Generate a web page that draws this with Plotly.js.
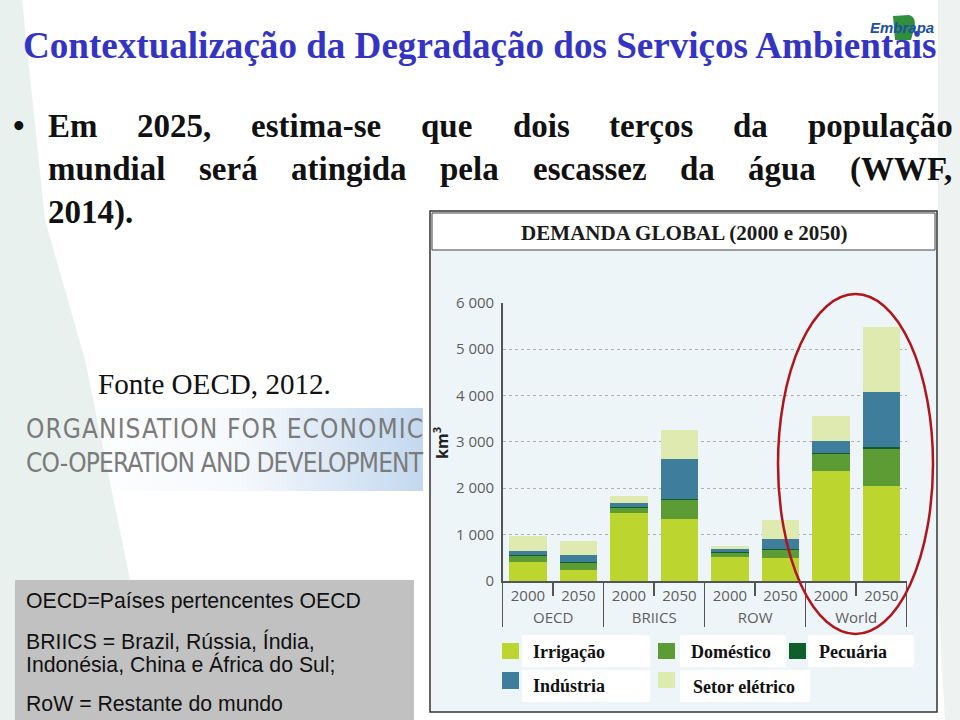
<!DOCTYPE html>
<html><head><meta charset="utf-8">
<script src="https://cdn.plot.ly/plotly-3.0.1.min.js"></script>
<style>html,body{margin:0;padding:0;background:#fff}#chart{width:960px;height:720px}</style>
</head><body><div id="chart"></div>
<script>
// ---- data ----
const regions = ["OECD","OECD","BRIICS","BRIICS","ROW","ROW","World","World"];
const years = ["2000","2050","2000","2050","2000","2050","2000","2050"];
const irrigacao = [402,237,1458,1329,528,503,2378,2055];
const domestico = [144,158,115,410,80,172,355,783];
const pecuaria = [15,12,15,35,10,20,25,60];
const industria = [93,146,100,862,62,200,250,1185];
const setorEletrico = [316,316,151,617,70,424,553,1401];
const seriesNames = ["Irrigação","Doméstico","Pecuária","Indústria","Setor elétrico"];
const yTicks = [0,1000,2000,3000,4000,5000,6000];

// ---- styles ----
const colors = ["#bcd52f","#5d9c35","#0f5f2c","#3f7d9d","#deeab0"];
const W = 960, H = 720;
const X = x => x / W, Y = y => 1 - y / H;
const SERIF = "'Liberation Serif','Times New Roman',serif";
const SANS = "'Liberation Sans',Arial,sans-serif";
const NARROW = "'Liberation Sans Narrow','DejaVu Sans Condensed','Liberation Sans',sans-serif";
const AXF = "'Open Sans','Noto Sans',sans-serif";

const ctx = document.createElement('canvas').getContext('2d');
function measure(text, weight, size, family){ ctx.font = weight + ' ' + size + 'px ' + family; return ctx.measureText(text).width; }
function fitSize(text, weight, family, width){ return 20 * width / measure(text, weight, 20, family); }

const allSeries = [irrigacao, domestico, pecuaria, industria, setorEletrico];
const traces = allSeries.map((vals, i) => ({
  type: 'bar', name: seriesNames[i], x: [regions, years], y: vals,
  marker: {color: colors[i], line: {width: 0}}, showlegend: false, hoverinfo: 'skip'
}));

const shapes = [];
const anns = [];
const rect = (x0,y0,x1,y1,fill,line,lw,layer) => shapes.push({type:'rect',xref:'paper',yref:'paper',x0:X(x0),x1:X(x1),y0:Y(y1),y1:Y(y0),fillcolor:fill,line:{color:line||'rgba(0,0,0,0)',width:lw||0},layer:layer||'below'});
const poly = (pts, fill) => shapes.push({type:'path',xref:'paper',yref:'paper',path:'M '+pts.map(p=>X(p[0]).toFixed(5)+' '+Y(p[1]).toFixed(5)).join(' L ')+' Z',fillcolor:fill,line:{width:0},layer:'below'});
const text = (t,x,y,o) => anns.push(Object.assign({text:t,x:X(x),y:Y(y),xref:'paper',yref:'paper',showarrow:false,xanchor:'left',yanchor:'middle',borderpad:0},o));

// slide background decoration
poly([[0,0],[22,0],[45,220],[85,360],[130,580],[150,720],[0,720]], '#e9f1ee');
poly([[938,0],[960,0],[960,720],[945,720],[938,600]], '#eef3f1');

// title
const titleTxt = "Contextualização da Degradação dos Serviços Ambientais";
const tSize = fitSize(titleTxt, 'bold', SERIF, 916);
text(titleTxt, 22, 45, {font:{family:SERIF,size:tSize,color:'#3434c4',weight:'bold'}});

// Embrapa logo
shapes.push({type:'path',xref:'paper',yref:'paper',path:'M '+X(893)+' '+Y(16)+' L '+X(909)+' '+Y(15)+' Q '+X(917)+' '+Y(17)+' '+X(914)+' '+Y(29)+' L '+X(911)+' '+Y(40)+' L '+X(895)+' '+Y(40)+' Z',fillcolor:'#2f8f3c',line:{width:0},layer:'below'});
text('<i>Embrapa</i>', 869, 28, {font:{family:SANS,size:15,color:'#1e4fa5',weight:'bold'}});

// bullet text (justified)
const bSize = 33;
function justify(words, x0, x1, y){
  const widths = words.map(w => measure(w,'bold',bSize,SERIF));
  const total = widths.reduce((a,b)=>a+b,0);
  const gap = (x1 - x0 - total) / (words.length - 1);
  let x = x0;
  words.forEach((w,i) => { text(w, x, y, {font:{family:SERIF,size:bSize,color:'#111',weight:'bold'}}); x += widths[i] + gap; });
}
text('•', 12, 126, {font:{family:SERIF,size:bSize,color:'#111',weight:'bold'}});
justify(["Em","2025,","estima-se","que","dois","terços","da","população"], 47, 952, 126);
justify(["mundial","será","atingida","pela","escassez","da","água","(WWF,"], 47, 951, 169);
text('2014).', 47, 212, {font:{family:SERIF,size:bSize,color:'#111',weight:'bold'}});

// Fonte
const fonteTxt = "Fonte OECD, 2012.";
text(fonteTxt, 97, 384, {font:{family:SERIF,size:fitSize(fonteTxt,'normal',SERIF,233),color:'#111'}});

// OECD logo (gradient background)
const gc = document.createElement('canvas'); gc.width = 408; gc.height = 83;
const g2 = gc.getContext('2d'); const grad = g2.createLinearGradient(0,0,408,0);
grad.addColorStop(0,'#ffffff'); grad.addColorStop(0.55,'#f6f9fc'); grad.addColorStop(1,'#c3d8ef');
g2.fillStyle = grad; g2.fillRect(0,0,408,83);
const logoImg = gc.toDataURL();
function spaced(t, x0, x1, y, size){
  const w = measure(t,'normal',size,NARROW);
  const ls = (x1 - x0 - w) / (t.length - 1);
  text('<span style="letter-spacing:'+ls.toFixed(2)+'px">'+t+'</span>', x0, y, {font:{family:NARROW,size:size,color:'#7b7b7b'}});
}
spaced("ORGANISATION FOR ECONOMIC", 25, 422, 429, 26);
spaced("CO-OPERATION AND DEVELOPMENT", 25, 422, 463, 26);

// grey info box
rect(15,580,414,720,'#c1c1c1');
const gSize = fitSize("OECD=Países pertencentes OECD",'normal',SANS,335);
text("OECD=Países pertencentes OECD", 25, 601, {font:{family:SANS,size:gSize,color:'#111'}});
text("BRIICS = Brazil, Rússia, Índia,", 25, 641, {font:{family:SANS,size:gSize,color:'#111'}});
text("Indonésia, China e África do Sul;", 25, 664, {font:{family:SANS,size:gSize,color:'#111'}});
text("RoW = Restante do mundo", 25, 704, {font:{family:SANS,size:gSize,color:'#111'}});

// chart frame
rect(430,211,937,712,'#eef5f8','#333',1.5);
rect(432,213,935,250,'#ffffff','#444',1);
const ctTxt = "DEMANDA GLOBAL (2000 e 2050)";
anns.push({text:ctTxt,x:X(683.5),y:Y(233),xref:'paper',yref:'paper',showarrow:false,xanchor:'center',yanchor:'middle',
  font:{family:SERIF,size:fitSize(ctTxt,'bold',SERIF,329),color:'#1a1a1a',weight:'bold'}});

// y axis title
anns.push({text:'km<sup>3</sup>',x:X(441),y:Y(443),xref:'paper',yref:'paper',showarrow:false,textangle:-90,xanchor:'center',yanchor:'middle',
  font:{family:AXF,size:16,color:'#222',weight:'bold'}});

// legend (custom)
const lg = [
  {sq:[502,643,519,659], bg:[522,635,650,667], tx:[532,652]},
  {sq:[658,643,675,659], bg:[680,635,786,667], tx:[690,652]},
  {sq:[789,643,806,659], bg:[808,635,914,667], tx:[818,652]},
  {sq:[502,672,519,689], bg:[522,670,650,702], tx:[532,686]},
  {sq:[658,672,675,688], bg:[680,670,810,702], tx:[692,687]}
];
lg.forEach((l,i) => {
  rect(l.bg[0],l.bg[1],l.bg[2],l.bg[3],'#ffffff');
  rect(l.sq[0],l.sq[1],l.sq[2],l.sq[3],colors[i]);
  text(seriesNames[i], l.tx[0], l.tx[1], {font:{family:SERIF,size:18,color:'#111',weight:'bold'}});
});

// red ellipse
shapes.push({type:'circle',xref:'paper',yref:'paper',x0:X(778),x1:X(933),y0:Y(634),y1:Y(294),line:{color:'#b3141c',width:2.5},fillcolor:'rgba(0,0,0,0)',layer:'above'});

const layout = {
  width: W, height: H, margin: {l:0,r:0,t:0,b:0},
  paper_bgcolor: '#ffffff', plot_bgcolor: 'rgba(0,0,0,0)',
  barmode: 'stack', bargap: 0.26, separators: '. ',
  showlegend: false,
  xaxis: {type:'multicategory', domain:[X(502.7),X(906.7)], showline:true, linecolor:'#555', linewidth:1.5,
    ticks:'outside', tickson:'boundaries', ticklen:13, tickcolor:'#555', tickwidth:1.5,
    showdividers:true, dividercolor:'#555', dividerwidth:1.5,
    tickfont:{family:AXF,size:15,color:'#5e5e5e'}, fixedrange:true},
  yaxis: {domain:[Y(581),Y(302.7)], range:[0,6000], tickvals:yTicks, tickformat:',d',
    showgrid:true, gridcolor:'#b0b0b0', griddash:'dot', gridwidth:1, zeroline:false,
    showline:true, linecolor:'#555', linewidth:1.5, ticks:'', ticklabelstandoff:4,
    tickfont:{family:AXF,size:15,color:'#5e5e5e'}, fixedrange:true},
  shapes: shapes, annotations: anns,
  images: [{source:logoImg, xref:'paper', yref:'paper', x:X(15), y:Y(408), sizex:408/W, sizey:83/H, xanchor:'left', yanchor:'top', sizing:'stretch', layer:'below'}]
};
Plotly.newPlot('chart', traces, layout, {staticPlot:true, displayModeBar:false});
</script></body></html>
